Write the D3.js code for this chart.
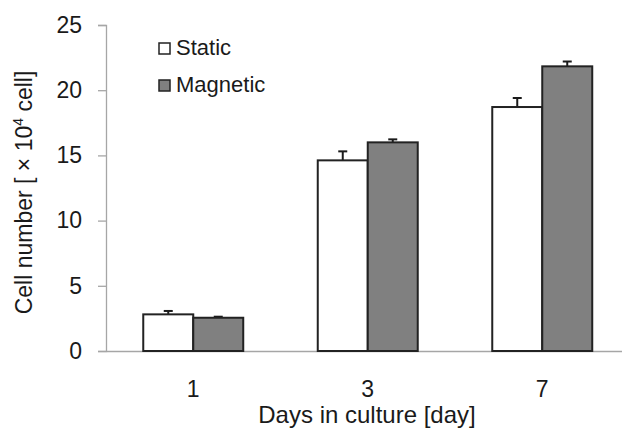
<!DOCTYPE html>
<html>
<head>
<meta charset="utf-8">
<script src="https://cdn.jsdelivr.net/npm/d3@7"></script>
<style>
  html, body { margin: 0; padding: 0; background: #fff; }
  text { font-family: "Liberation Sans", Arial, sans-serif; fill: #1a1a1a; }
</style>
</head>
<body>
<svg id="chart" width="622" height="437"></svg>
<script>
const days = ["1", "3", "7"];
const seriesNames = ["Static", "Magnetic"];
const staticValues = [2.81, 14.62, 18.71];
const staticErrors = [0.26, 0.69, 0.69];
const magneticValues = [2.55, 16.0, 21.83];
const magneticErrors = [0.08, 0.23, 0.37];
const yTicks = [0, 5, 10, 15, 20, 25];
const seriesFills = ["#ffffff", "#808080"];

const svg = d3.select("#chart");
const x0 = 106, x1 = 629.5, yTop = 25, yBot = 351;

const x = d3.scaleBand().domain(days).range([x0, x1]).paddingInner(0.427).paddingOuter(0.2135);
const xs = d3.scaleBand().domain(seriesNames).range([0, x.bandwidth()]);
const y = d3.scaleLinear().domain([0, 25]).range([yBot, yTop]);

const data = days.map((d, i) => ({
  day: d,
  vals: [
    { s: "Static", v: staticValues[i], e: staticErrors[i], fill: seriesFills[0] },
    { s: "Magnetic", v: magneticValues[i], e: magneticErrors[i], fill: seriesFills[1] }
  ]
}));

// Y axis
const yAxis = d3.axisLeft(y).tickValues(yTicks).tickSize(8).tickPadding(16).tickFormat(d3.format("d"));
const gy = svg.append("g").attr("transform", `translate(${x0},0)`).call(yAxis);
gy.select(".domain").attr("stroke", "#a6a6a6").attr("stroke-width", 1.3);
gy.selectAll(".tick line").attr("stroke", "#a6a6a6").attr("stroke-width", 1.3);
gy.selectAll(".tick text").attr("font-size", 23).attr("fill", "#1a1a1a")
  .style("font-family", "'Liberation Sans', Arial, sans-serif");

// X axis
const xAxis = d3.axisBottom(x).tickSize(0).tickPadding(30);
const gx = svg.append("g").attr("transform", `translate(0,${yBot})`).call(xAxis);
gx.select(".domain").attr("stroke", "#a6a6a6").attr("stroke-width", 1.3);
gx.selectAll(".tick text").attr("font-size", 23).attr("fill", "#1a1a1a")
  .style("font-family", "'Liberation Sans', Arial, sans-serif");

// Bars
const groups = svg.append("g").selectAll("g").data(data).join("g")
  .attr("transform", d => `translate(${x(d.day)},0)`);

groups.selectAll("g.err").data(d => d.vals).join("g").attr("class", "err")
  .each(function(d) {
    const g = d3.select(this);
    const cx = xs(d.s) + xs.bandwidth() / 2;
    g.append("line").attr("x1", cx).attr("x2", cx).attr("y1", y(d.v)).attr("y2", y(d.v + d.e))
      .attr("stroke", "#1a1a1a").attr("stroke-width", 2);
    g.append("line").attr("x1", cx - 4.5).attr("x2", cx + 4.5).attr("y1", y(d.v + d.e)).attr("y2", y(d.v + d.e))
      .attr("stroke", "#1a1a1a").attr("stroke-width", 2);
  });

groups.selectAll("rect").data(d => d.vals).join("rect")
  .attr("x", d => xs(d.s))
  .attr("width", xs.bandwidth())
  .attr("y", d => y(d.v))
  .attr("height", d => y(0) - y(d.v))
  .attr("fill", d => d.fill)
  .attr("stroke", "#222")
  .attr("stroke-width", 2);

// Legend
const legend = svg.append("g").selectAll("g").data(seriesNames).join("g")
  .attr("transform", (d, i) => `translate(159,${43 + i * 37})`);
legend.append("rect").attr("width", 11).attr("height", 11)
  .attr("fill", (d, i) => seriesFills[i]).attr("stroke", "#222").attr("stroke-width", 1.5);
legend.append("text").attr("x", 17).attr("y", 12).attr("font-size", 22).text(d => d);

// Axis titles
svg.append("text").attr("x", 367).attr("y", 423).attr("text-anchor", "middle")
  .attr("font-size", 24).text("Days in culture [day]");

const yt = svg.append("text").attr("transform", "translate(32,192.5) rotate(-90)")
  .attr("text-anchor", "middle").attr("font-size", 23);
yt.append("tspan").text("Cell number [ × 10");
yt.append("tspan").attr("font-size", 14).attr("dy", -9).text("4");
yt.append("tspan").attr("dy", 9).text(" cell]");
</script>
</body>
</html>
